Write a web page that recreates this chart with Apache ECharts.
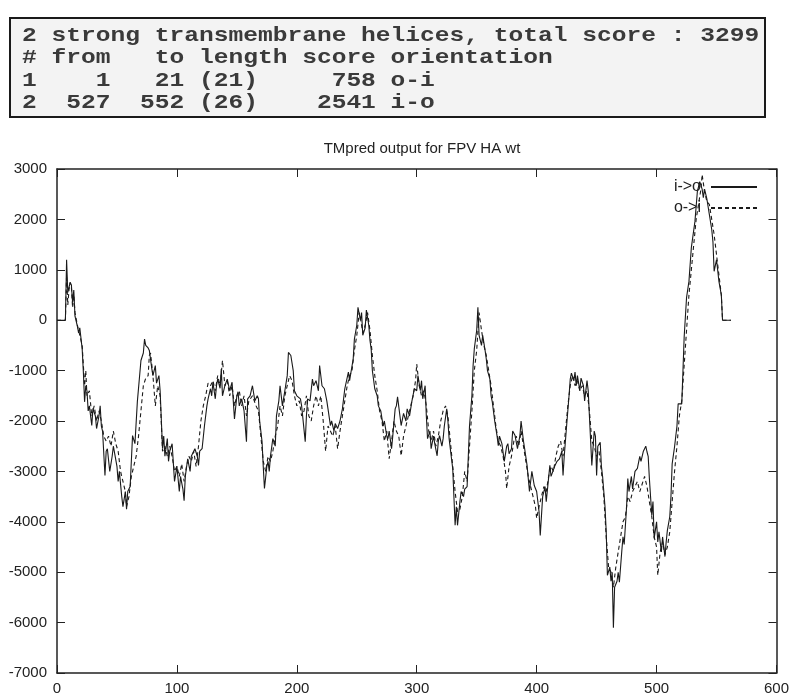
<!DOCTYPE html>
<html>
<head>
<meta charset="utf-8">
<title>TMpred output for FPV HA wt</title>
<script src="https://cdn.jsdelivr.net/npm/echarts@6/dist/echarts.min.js"></script>
<style>
  html, body { margin: 0; padding: 0; background: #fff; }
  #chart { width: 792px; height: 696px; }
</style>
</head>
<body>
<div id="chart"></div>
<script>
// TMpred summary table (top box)
const summaryLines = [
  '2 strong transmembrane helices, total score : 3299',
  '# from   to length score orientation',
  '1    1   21 (21)     758 o-i',
  '2  527  552 (26)    2541 i-o'
]

const seriesNames = ['i->o', 'o->i']

// [residue, score]
const inOut = [
  [0,0],[7,0],[8,1200],[9,550],[11,750],[12,700],[13,350],[14,600],[15,80],[17,-120],[18,-250],[19,-150],
  [21,-570],[22,-1030],[23,-1620],[24,-1300],[25,-1400],[26,-1800],[27,-1700],[29,-2090],[30,-1750],[32,-1900],
  [33,-2150],[35,-1900],[36,-1700],[37,-2100],[38,-2200],[40,-3080],[41,-2600],[42,-2550],[44,-3000],[46,-2700],
  [47,-2500],[48,-2490],[50,-2900],[51,-3200],[52,-3000],[54,-3500],[55,-3700],[57,-3400],[58,-3750],[59,-3400],
  [61,-3300],[63,-2290],[65,-2450],[67,-1620],[70,-800],[72,-650],[73,-375],[74,-500],[76,-550],[77,-600],
  [79,-950],[80,-1100],[82,-900],[83,-1250],[85,-1100],[86,-1400],[88,-2550],[89,-2300],[90,-2700],[92,-2350],
  [93,-2800],[94,-2600],[96,-2450],[98,-3200],[100,-2900],[102,-3400],[103,-3100],[105,-3350],[106,-3580],
  [107,-3100],[109,-2750],[111,-3000],[112,-2700],[115,-2550],[117,-2700],[118,-2880],[119,-2600],[121,-2550],
  [123,-2090],[125,-1700],[126,-1560],[128,-1360],[129,-1500],[130,-1230],[132,-1560],[133,-1300],[134,-1170],
  [136,-1350],[137,-970],[138,-1500],[140,-1300],[142,-1170],[144,-1400],[146,-1230],[147,-1600],[148,-1960],
  [150,-1500],[151,-1420],[152,-1700],[154,-1560],[156,-1800],[158,-2410],[159,-1560],[161,-1500],[163,-1300],
  [165,-1600],[167,-1500],[168,-1560],[169,-2000],[171,-2410],[172,-2900],[173,-3340],[175,-2900],[176,-2800],
  [177,-3000],[178,-2700],[180,-2350],[182,-2500],[183,-1900],[185,-1600],[186,-1300],[188,-1700],[190,-1400],
  [192,-1100],[193,-640],[195,-700],[197,-1000],[198,-1400],[200,-1500],[203,-1560],[204,-1700],[207,-2410],
  [208,-1900],[209,-1560],[211,-1600],[213,-1170],[214,-1300],[216,-1200],[218,-1400],[219,-900],[221,-1300],
  [223,-1360],[225,-1600],[226,-1760],[228,-2090],[229,-2000],[231,-2200],[232,-2050],[234,-2150],[236,-2000],
  [238,-1760],[240,-1360],[243,-1030],[244,-1200],[247,-770],[248,-375],[250,-100],[251,257],[253,0],[254,150],
  [255,-300],[257,-150],[258,200],[260,-100],[261,-400],[262,-573],[263,-1000],[265,-1360],[267,-1500],
  [268,-1700],[270,-1800],[272,-2100],[273,-2000],[275,-2300],[276,-2350],[277,-2200],[279,-2550],[280,-2300],
  [282,-1760],[283,-1700],[284,-1520],[286,-1900],[287,-2090],[289,-1850],[291,-2000],[292,-1760],[294,-1900],
  [296,-1600],[298,-1360],[300,-1400],[301,-1100],[303,-1400],[304,-1200],[305,-1560],[307,-1300],[308,-1900],
  [309,-2350],[311,-2200],[312,-2550],[314,-2300],[315,-2450],[317,-2690],[318,-2400],[319,-2290],[321,-2500],
  [322,-2350],[323,-2100],[325,-1760],[326,-2000],[327,-2350],[329,-2750],[330,-2940],[332,-4070],[333,-3700],
  [334,-4070],[336,-3600],[337,-3400],[339,-3500],[340,-3350],[342,-3300],[343,-2700],[344,-2100],[346,-1500],
  [347,-900],[348,-570],[350,-200],[351,257],[352,-300],[354,-500],[355,-300],[357,-600],[358,-770],[359,-1000],
  [361,-1170],[362,-1500],[363,-1620],[365,-2000],[367,-2300],[368,-2490],[369,-2300],[371,-2450],[373,-2800],
  [375,-2500],[376,-2450],[377,-2650],[379,-2550],[380,-2200],[382,-2290],[384,-2550],[386,-2300],[387,-2000],
  [389,-2400],[390,-2550],[392,-2880],[394,-3400],[396,-3000],[398,-3280],[400,-3400],[402,-3800],[403,-4270],
  [405,-3500],[407,-3300],[408,-3600],[411,-2880],[412,-3100],[415,-2900],[417,-2800],[419,-2750],[421,-2600],
  [422,-3080],[423,-2700],[425,-2090],[427,-1500],[428,-1170],[429,-1050],[431,-1200],[432,-1030],[433,-1300],
  [434,-1100],[436,-1400],[437,-1150],[439,-1300],[440,-1600],[442,-1200],[443,-1400],[444,-1900],[446,-2880],
  [448,-2200],[449,-2300],[450,-3080],[451,-2500],[453,-2420],[454,-2900],[455,-3100],[457,-3700],[458,-4190],
  [459,-5060],[461,-4900],[462,-5180],[463,-5000],[464,-6100],[465,-5300],[467,-5180],[468,-5000],[469,-5200],
  [471,-4580],[472,-4300],[473,-4450],[475,-3700],[476,-3140],[477,-3400],[479,-3100],[480,-3350],[482,-3000],
  [484,-2940],[486,-2700],[487,-2800],[489,-2600],[491,-2500],[492,-2610],[493,-2700],[494,-3140],[496,-3870],
  [497,-3600],[498,-4330],[500,-4000],[501,-4400],[502,-4200],[504,-4600],[505,-4300],[507,-4690],[508,-4400],
  [509,-4170],[511,-3900],[512,-3500],[513,-2850],[515,-2510],[517,-2100],[518,-1660],[521,-1660],[522,-1010],
  [523,-340],[525,450],[527,770],[529,1440],[532,1960],[534,2550],[536,2750],[538,2600],[539,2430],[540,2600],
  [542,2400],[544,2100],[546,1800],[547,1560],[548,970],[550,1200],[552,770],[554,500],[555,0],[562,0]
]

const outIn = [
  [0,0],[7,0],[8,900],[9,300],[10,600],[11,750],[12,650],[13,250],[14,500],[15,150],[17,-100],[19,-300],
  [21,-500],[22,-900],[23,-1300],[24,-1000],[25,-1500],[27,-1400],[29,-1900],[31,-1700],[33,-2000],[35,-1800],
  [37,-2000],[39,-2300],[41,-2400],[43,-2300],[45,-2500],[47,-2200],[49,-2450],[51,-2600],[53,-3000],[55,-3200],
  [57,-3400],[58,-3700],[60,-3500],[62,-3100],[64,-2900],[66,-2700],[68,-2300],[70,-1800],[72,-1300],[74,-1150],
  [76,-1100],[77,-700],[78,-650],[80,-1100],[82,-1700],[84,-1300],[86,-1500],[88,-2600],[90,-2500],[92,-2700],
  [94,-2500],[96,-2700],[98,-3000],[100,-2900],[102,-3100],[104,-2850],[106,-3200],[108,-2900],[110,-2700],
  [112,-2800],[114,-2600],[116,-2900],[118,-2500],[120,-2000],[122,-1700],[124,-1500],[126,-1250],[128,-1300],
  [130,-1200],[132,-1400],[134,-1100],[136,-1300],[138,-800],[140,-1300],[142,-1200],[144,-1500],[146,-1300],
  [148,-1700],[150,-1500],[152,-1400],[154,-1700],[156,-1500],[158,-1900],[160,-1600],[163,-1500],[166,-1700],
  [168,-1800],[170,-2300],[172,-2800],[174,-3000],[176,-2700],[178,-2800],[180,-2600],[182,-2300],[184,-2100],
  [186,-1700],[188,-1900],[190,-1500],[192,-1300],[194,-1100],[196,-1200],[198,-1500],[200,-1700],[202,-1600],
  [204,-1900],[206,-1800],[208,-1500],[210,-1900],[212,-2000],[214,-1700],[216,-1500],[218,-1700],[220,-1500],
  [222,-2000],[224,-2600],[226,-2100],[228,-2200],[230,-2300],[232,-2100],[234,-2550],[236,-2200],[238,-1900],
  [240,-1600],[242,-1300],[244,-1100],[246,-1000],[248,-600],[250,-300],[252,150],[253,50],[255,-250],[257,-100],
  [259,150],[261,-200],[263,-700],[265,-1100],[267,-1400],[269,-1800],[271,-2000],[273,-2400],[275,-2200],
  [277,-2750],[279,-2400],[281,-2000],[283,-2200],[285,-2300],[287,-2690],[289,-2300],[291,-2100],[293,-1900],
  [295,-1700],[297,-1500],[299,-1200],[300,-870],[302,-1300],[304,-1500],[306,-1400],[308,-1700],[310,-2200],
  [312,-2400],[314,-2200],[316,-2500],[318,-2300],[320,-2000],[322,-1800],[324,-1700],[326,-1900],[328,-2400],
  [330,-2900],[332,-3400],[334,-3800],[336,-3750],[338,-3500],[340,-3000],[342,-3200],[344,-2500],[346,-1800],
  [348,-1000],[350,-600],[352,150],[354,-200],[356,-500],[358,-700],[360,-1000],[362,-1300],[364,-1700],
  [366,-2100],[368,-2400],[370,-2500],[372,-2700],[374,-3000],[375,-3340],[377,-2900],[379,-2700],[381,-2400],
  [383,-2300],[385,-2500],[387,-2200],[389,-2500],[391,-2800],[393,-3100],[395,-3300],[397,-3500],[399,-3700],
  [400,-3930],[402,-3700],[404,-3500],[406,-3300],[408,-3400],[410,-3100],[412,-2900],[414,-3000],[416,-2700],
  [418,-2500],[420,-2400],[422,-2700],[424,-2200],[426,-1700],[428,-1300],[430,-1100],[432,-1300],[434,-1200],
  [436,-1400],[438,-1300],[440,-1500],[442,-1400],[444,-1800],[446,-2400],[448,-2500],[450,-2700],[452,-2600],
  [454,-3000],[456,-3500],[458,-4300],[460,-4900],[462,-5000],[464,-5300],[466,-4900],[468,-4600],[470,-4300],
  [472,-4000],[474,-3900],[476,-3500],[478,-3600],[480,-3400],[482,-3300],[484,-3200],[486,-3400],[488,-3250],
  [490,-3100],[492,-3300],[494,-3600],[496,-3900],[498,-4300],[500,-4500],[501,-5060],[503,-4600],[505,-4400],
  [507,-4650],[509,-4500],[511,-4200],[513,-3600],[515,-3000],[517,-2500],[519,-1900],[521,-1600],[523,-900],
  [525,-200],[527,500],[529,1000],[531,1500],[533,2000],[535,2300],[537,2600],[538,2890],[540,2550],[542,2350],
  [544,2300],[546,2000],[548,1700],[550,1300],[552,900],[554,500],[555,0],[562,0]
]

const chart = echarts.init(document.getElementById('chart'))

const labelFont = { fontFamily: 'Liberation Sans, Arial, sans-serif', fontSize: 15, color: '#222' }
const axisLine = { show: true, onZero: false, lineStyle: { color: '#222', width: 1.5 } }
const tick = { show: true, inside: true, length: 8, lineStyle: { color: '#222', width: 1 } }
const plain = (v) => String(v)

const option = {
  animation: false,
  backgroundColor: '#fff',
  title: {
    text: 'TMpred output for FPV HA wt',
    left: 417,
    top: 136,
    textAlign: 'center',
    textStyle: { fontFamily: 'Liberation Sans, Arial, sans-serif', fontSize: 15, fontWeight: 'normal', color: '#222' }
  },
  legend: {
    data: seriesNames,
    orient: 'vertical',
    right: 34,
    top: 179,
    padding: 0,
    align: 'right',
    itemWidth: 46,
    itemHeight: 12,
    itemGap: 5,
    itemStyle: { opacity: 0 },
    textStyle: { fontFamily: 'Liberation Sans, Arial, sans-serif', fontSize: 16, color: '#222', padding: [0, 5, 0, 0] }
  },
  grid: { left: 57, right: 15, top: 169, bottom: 21 },
  xAxis: [
    {
      type: 'value', min: 0, max: 600, interval: 100, position: 'bottom',
      axisLine, axisTick: tick, splitLine: { show: false },
      axisLabel: { ...labelFont, margin: 8, formatter: plain }
    },
    {
      type: 'value', min: 0, max: 600, interval: 100, position: 'top',
      axisLine, axisTick: tick, splitLine: { show: false }, axisLabel: { show: false }
    }
  ],
  yAxis: [
    {
      type: 'value', min: -7000, max: 3000, interval: 1000, position: 'left',
      axisLine, axisTick: tick, splitLine: { show: false },
      axisLabel: { ...labelFont, margin: 10, formatter: plain }
    },
    {
      type: 'value', min: -7000, max: 3000, interval: 1000, position: 'right',
      axisLine, axisTick: tick, splitLine: { show: false }, axisLabel: { show: false }
    }
  ],
  series: [
    {
      name: seriesNames[0], type: 'line', data: inOut, symbol: 'none',
      lineStyle: { color: '#1a1a1a', width: 1.1 }, itemStyle: { color: '#1a1a1a' }, z: 3
    },
    {
      name: seriesNames[1], type: 'line', data: outIn, symbol: 'none',
      lineStyle: { color: '#1a1a1a', width: 1.1, type: [4, 3] }, itemStyle: { color: '#1a1a1a' }, z: 2
    }
  ],
  graphic: [
    {
      type: 'rect',
      shape: { x: 10, y: 18, width: 755, height: 99 },
      style: { fill: '#f3f3f3', stroke: '#1a1a1a', lineWidth: 2 }
    },
    {
      type: 'text',
      x: 22, y: 24,
      scaleX: 1.17,
      style: {
        text: summaryLines.join('\n'),
        font: 'bold 21px "Liberation Mono", "DejaVu Sans Mono", monospace',
        lineHeight: 22.5,
        fill: '#3a3a3a'
      }
    }
  ]
}

chart.setOption(option)
</script>
</body>
</html>
